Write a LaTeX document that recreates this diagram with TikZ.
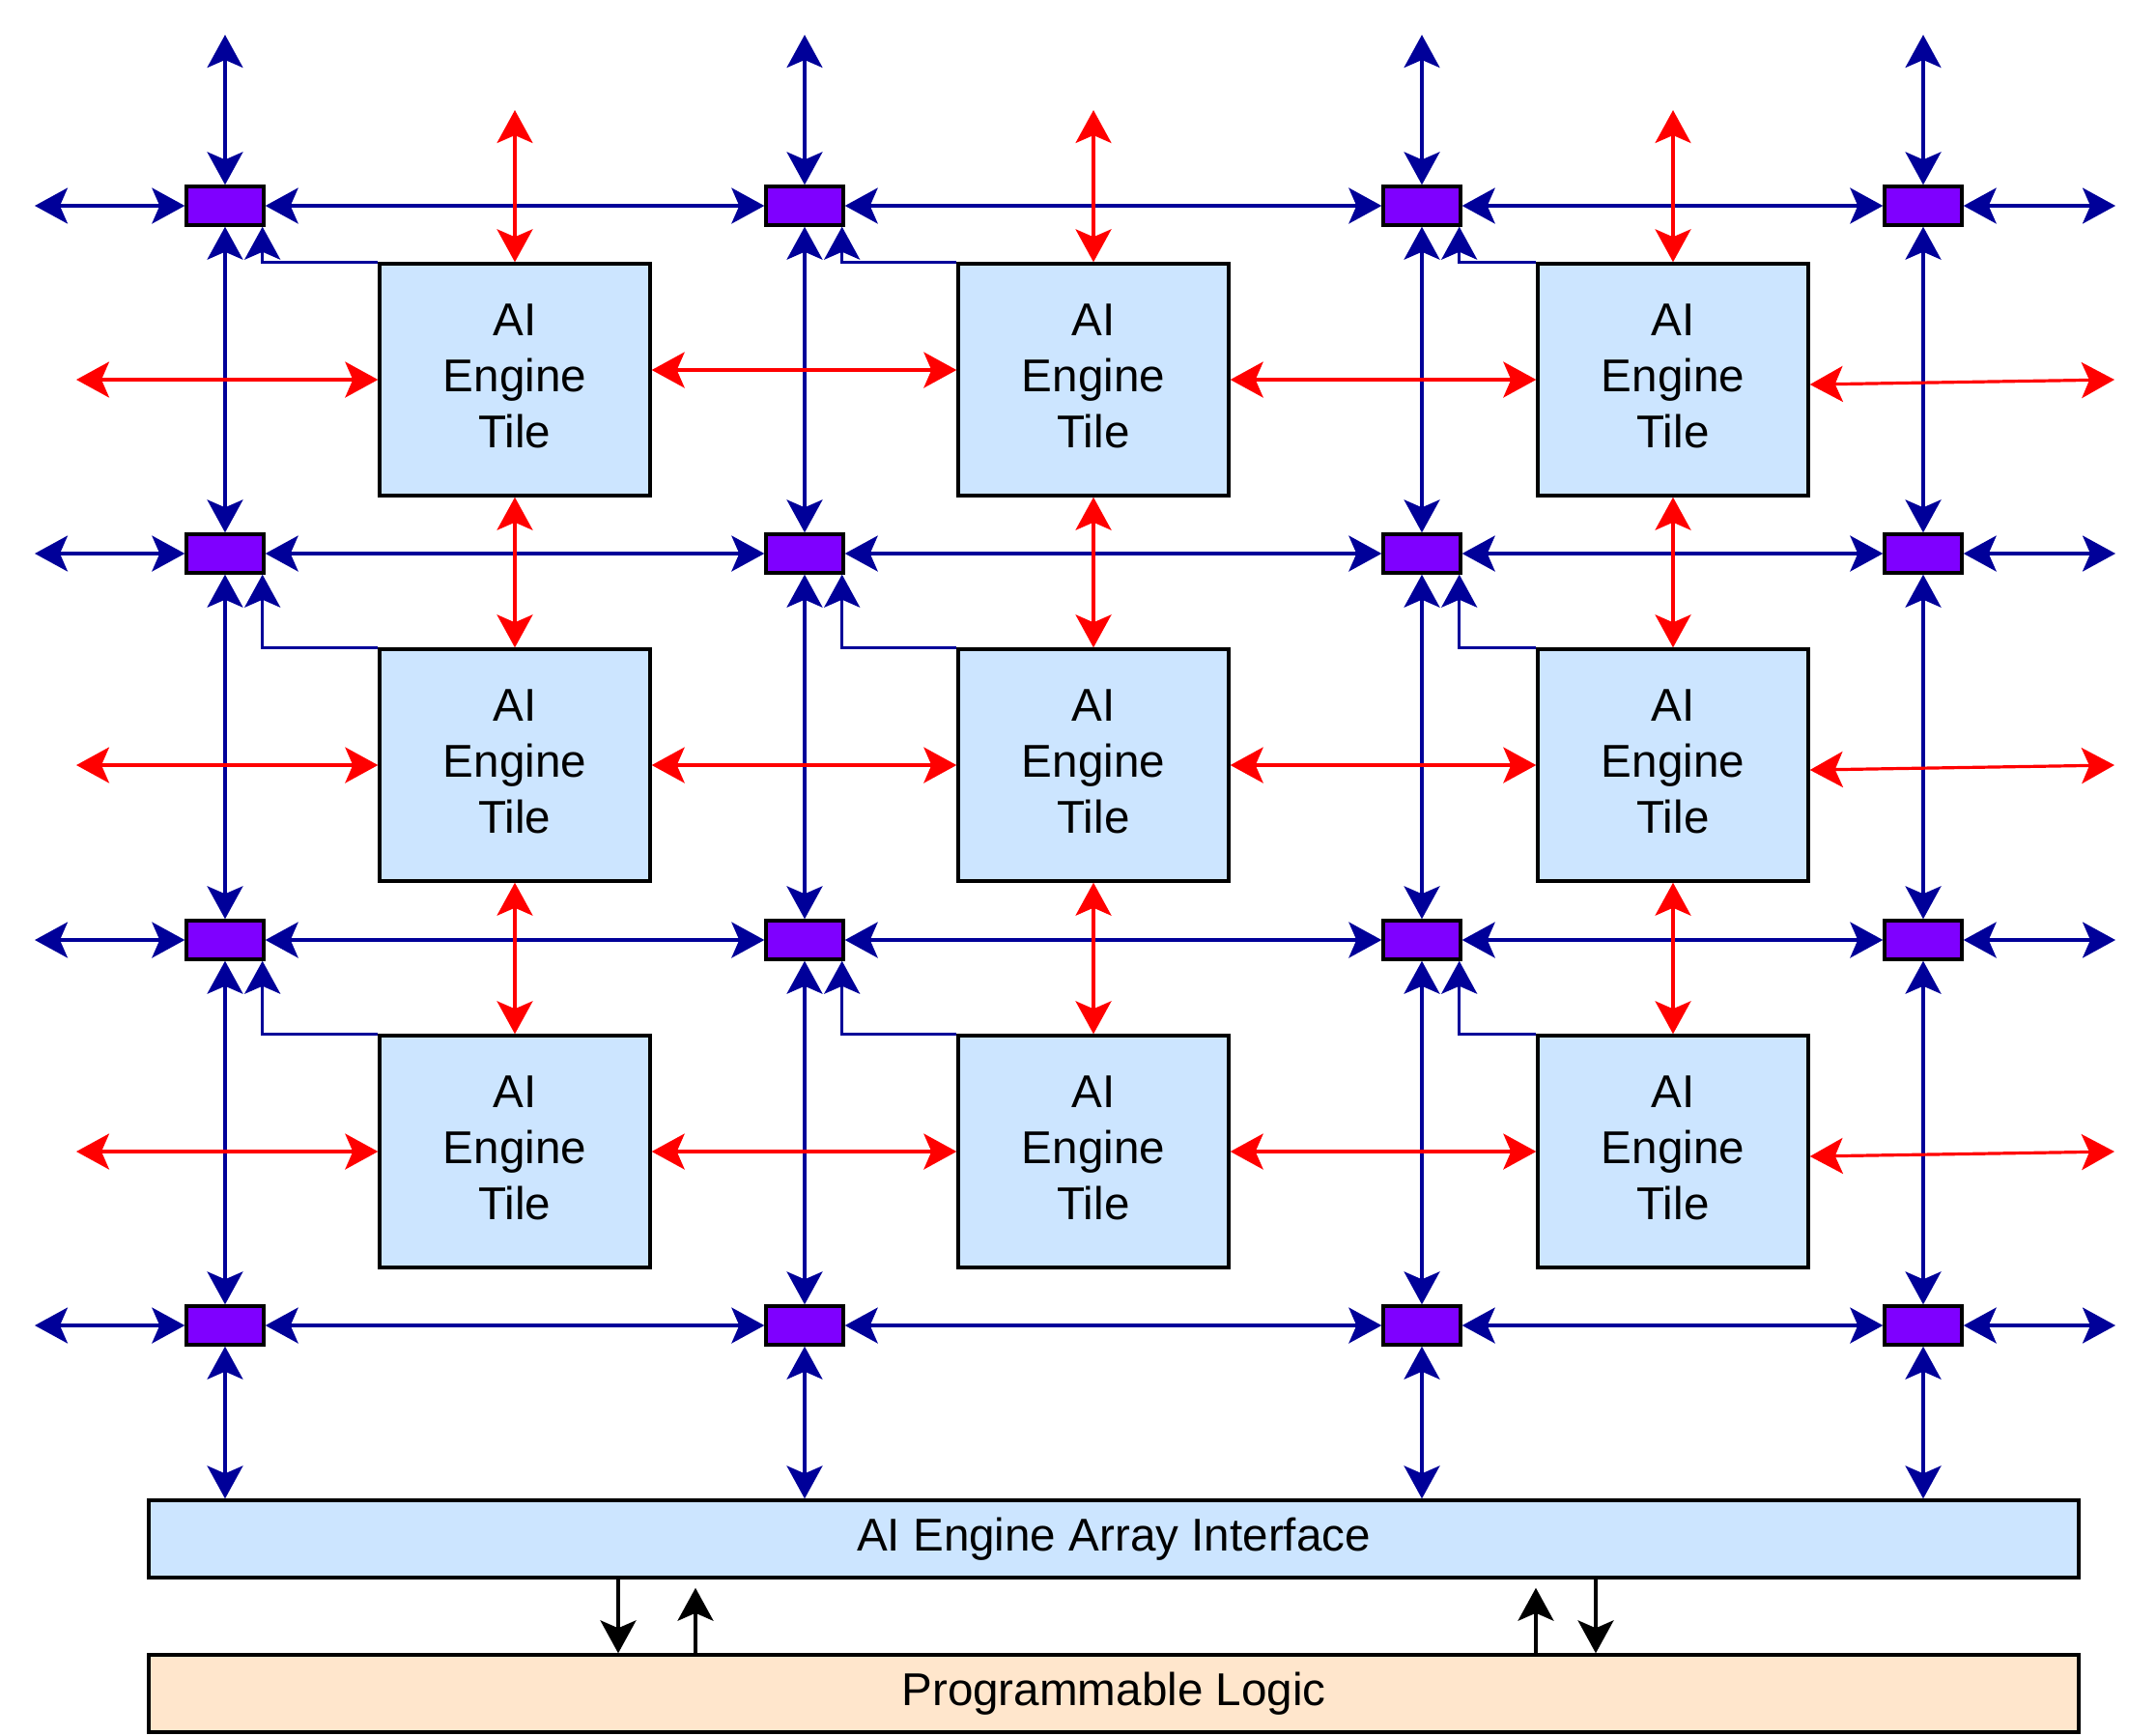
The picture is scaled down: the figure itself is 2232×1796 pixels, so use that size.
\documentclass[tikz,border=0pt]{standalone}
\usepackage{fontspec}
\setmainfont{Liberation Sans}
\usetikzlibrary{arrows.meta}
\usetikzlibrary{positioning}
\definecolor{linkblue}{HTML}{000099}
\definecolor{switchviolet}{HTML}{7F00FF}
\definecolor{tileblue}{HTML}{CCE5FF}
\definecolor{plpeach}{HTML}{FFE6CC}
\tikzstyle{bluearrow} = [line width=1.6pt, draw=linkblue, <->, >={Stealth[length=17pt,width=18.5pt,inset=4pt]}]
\tikzstyle{feedarrow} = [line width=1.6pt, draw=linkblue, ->, >={Stealth[length=17pt,width=18.5pt,inset=4pt]}]
\tikzstyle{redarrow} = [line width=1.6pt, draw=red, <->, >={Stealth[length=17pt,width=18.5pt,inset=4pt]}]
\tikzstyle{plarrow} = [line width=1.7pt, ->, >={Stealth[length=17pt,width=18.5pt,inset=4pt]}]
\tikzstyle{switchbox} = [
    rectangle, minimum width=40pt, minimum height=20pt, inner sep=0pt,
    draw=black, line width=1.7pt, fill=switchviolet]
\tikzstyle{tilebox} = [
    rectangle, minimum width=140pt, minimum height=120pt, inner sep=0pt, align=center,
    text depth=4pt, draw=black, line width=1.7pt, fill=tileblue,
    font=\fontsize{23.8pt}{29pt}\selectfont]
\tikzstyle{busbox} = [
    rectangle, minimum width=999pt, minimum height=40pt, inner sep=0pt,
    draw=black, line width=1.7pt, font=\fontsize{23.8pt}{29pt}\selectfont]

\begin{document}
\begin{tikzpicture}[x=0.5pt, y=-0.5pt]
\useasboundingbox (0,0) rectangle (2232,1796);

\foreach \r/\y in {1/213,2/573,3/973,4/1372}
  \foreach \c/\x in {1/233,2/833,3/1472,4/1991}
    \node (switch\r\c) [switchbox] at (\x,\y) {};

\foreach \r/\y in {1/393,2/792,3/1192}
  \foreach \c/\x in {1/533,2/1132,3/1732}
    \node (tile\r\c) [tilebox] at (\x,\y) {AI\\Engine\\Tile};

\node (interface) [busbox, fill=tileblue] at (1153,1593) {AI Engine Array Interface};
\node (logic) [busbox, fill=plpeach] at (1153,1753) {Programmable Logic};

\foreach \c/\x in {1/233,2/833,3/1472,4/1991} {
  \coordinate (top\c) at (\x,36);
  \draw [bluearrow] (switch1\c) -- (top\c);
  \draw [bluearrow] (switch1\c) -- (switch2\c);
  \draw [bluearrow] (switch2\c) -- (switch3\c);
  \draw [bluearrow] (switch3\c) -- (switch4\c);
  \draw [bluearrow] (switch4\c) -- (switch4\c |- interface.north);
}
\foreach \r/\y in {1/213,2/573,3/973,4/1372} {
  \coordinate (left\r) at (36,\y);
  \coordinate (right\r) at (2190,\y);
  \draw [bluearrow] (left\r) -- (switch\r1);
  \draw [bluearrow] (switch\r1) -- (switch\r2);
  \draw [bluearrow] (switch\r2) -- (switch\r3);
  \draw [bluearrow] (switch\r3) -- (switch\r4);
  \draw [bluearrow] (switch\r4) -- (right\r);
}

\foreach \r in {1,2,3}
  \foreach \c in {1,2,3}
    \draw [feedarrow] (tile\r\c.north west) -| ([xshift=-1.5pt]switch\r\c.south east);

\foreach \c/\x in {1/533,2/1132,3/1732} {
  \coordinate (redtop\c) at (\x,114);
  \draw [redarrow] (tile1\c) -- (redtop\c);
  \draw [redarrow] (tile1\c) -- (tile2\c);
  \draw [redarrow] (tile2\c) -- (tile3\c);
}
\foreach \r/\y in {1/393,2/792,3/1192} {
  \coordinate (redleft\r) at (79,\y);
  \coordinate (redright\r) at (2189,\y);
  \draw [redarrow] (redleft\r) -- (tile\r1);
  \draw [redarrow] (tile\r2) -- (tile\r3);
  \draw [redarrow] ([yshift=-2.5pt]tile\r3.east) -- (redright\r);
}
\draw [redarrow] ([yshift=5pt]tile11.east) -- ([yshift=5pt]tile12.west);
\draw [redarrow] (tile21) -- (tile22);
\draw [redarrow] (tile31) -- (tile32);

\draw [plarrow] (640,0 |- interface.south) -- (640,0 |- logic.north);
\draw [plarrow, shorten >=4.5pt] (720,0 |- logic.north) -- (720,0 |- interface.south);
\draw [plarrow, shorten >=4.5pt] (1590,0 |- logic.north) -- (1590,0 |- interface.south);
\draw [plarrow] (1652,0 |- interface.south) -- (1652,0 |- logic.north);
\end{tikzpicture}
\end{document}
